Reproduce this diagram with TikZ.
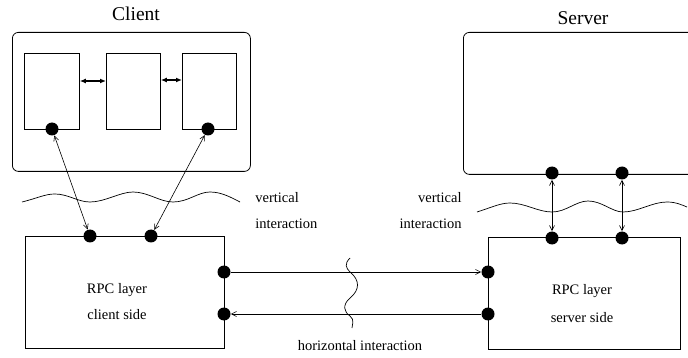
\documentclass[tikz,border=0pt]{standalone}
\usepackage{fontspec}
\setmainfont{Liberation Serif}
\usetikzlibrary{arrows.meta}
\begin{document}
\begin{tikzpicture}[x=1pt,y=-1pt,
  line width=0.8pt,
  box/.style={draw,inner sep=0pt,anchor=north west},
  dot/.style={circle,fill=black,inner sep=0pt,minimum size=13pt},
  lbl/.style={font=\fontsize{14.5}{16}\selectfont,inner sep=0pt},
  ttl/.style={font=\fontsize{19.5}{22}\selectfont,inner sep=0pt},
  arr/.style={-{Straight Barb[length=5pt,width=5pt]},line width=0.6pt},
  darr/.style={{Straight Barb[length=5pt,width=5pt]}-{Straight Barb[length=5pt,width=5pt]},line width=0.6pt},
  inarr/.style={{Latex[length=6pt,width=5pt]}-{Latex[length=6pt,width=5pt]},line width=1.2pt},
  wave/.style={line width=0.7pt}]
\useasboundingbox (0,0) rectangle (688,358);
\clip (0,0) rectangle (688,358);
% titles
\node[ttl] (tc) at (136,14) {Client};
\node[ttl] (ts) at (583,18) {Server};
% client box
\node[box,rounded corners=6pt,minimum width=238pt,minimum height=139pt] (client) at (12,32) {};
\node[box,minimum width=55pt,minimum height=76pt] (b1) at (24,53) {};
\node[box,minimum width=54pt,minimum height=76pt] (b2) at (106,53) {};
\node[box,minimum width=54pt,minimum height=76pt] (b3) at (182,53) {};
\draw[inarr] ([yshift=-28pt]b1.north east) -- ([yshift=-28pt]b2.north west);
\draw[inarr] ([yshift=-27pt]b2.north east) -- ([yshift=-27pt]b3.north west);
% server box
\node[box,rounded corners=6pt,minimum width=240pt,minimum height=142pt] (server) at (463,32) {};
% RPC boxes
\node[box,minimum width=199pt,minimum height=112pt] (rc) at (25,236) {};
\node[box,minimum width=192pt,minimum height=112pt] (rs) at (488,237) {};
\node[lbl] (rct1) at (117,290) {RPC layer};
\node[lbl] (rct2) at (117,315) {client side};
\node[lbl] (rst1) at (582,291) {RPC layer};
\node[lbl] (rst2) at (582,318) {server side};
% labels
\node[lbl,anchor=west] (vl1) at (255,198) {vertical};
\node[lbl,anchor=west] (vl2) at (255,224) {interaction};
\node[lbl,anchor=east] (vr1) at (462,198) {vertical};
\node[lbl,anchor=east] (vr2) at (462,224) {interaction};
\node[lbl] (hl) at (360,346) {horizontal interaction};
% wavy lines
\draw[wave] (22,202) .. controls (38,198) and (45,194) .. (55,194)
  .. controls (68,194) and (78,202) .. (90,202)
  .. controls (105,202) and (120,192) .. (133,192)
  .. controls (148,192) and (160,202) .. (173,202)
  .. controls (188,202) and (198,192) .. (210,192)
  .. controls (222,192) and (232,198) .. (240,202);
\draw[wave] (477,212) .. controls (490,208) and (500,203) .. (510,203)
  .. controls (525,203) and (538,212) .. (552,212)
  .. controls (566,212) and (576,201) .. (588,201)
  .. controls (602,201) and (612,212) .. (623,212)
  .. controls (638,212) and (652,202) .. (667,202)
  .. controls (676,202) and (682,205) .. (687,207);
\draw[wave] (350,258) .. controls (344,264) and (346,268) .. (350,272)
  .. controls (360,280) and (360,290) .. (350,298)
  .. controls (342,305) and (344,312) .. (350,316)
  .. controls (355,320) and (352,325) .. (352,328);
% dots
\node[dot] (cd1) at (52,129) {};
\node[dot] (cd2) at (208,129) {};
\node[dot] (rcd1) at (90,236) {};
\node[dot] (rcd2) at (151,236) {};
\node[dot] (rcd3) at (224,272) {};
\node[dot] (rcd4) at (224,314) {};
\node[dot] (sd1) at (552,173) {};
\node[dot] (sd2) at (622,173) {};
\node[dot] (rsd1) at (552,238) {};
\node[dot] (rsd2) at (622,238) {};
\node[dot] (rsd3) at (488,272) {};
\node[dot] (rsd4) at (488,314) {};
% connectors
\draw[darr] (cd1) -- (rcd1);
\draw[darr] (cd2) -- (rcd2);
\draw[darr] (sd1) -- (rsd1);
\draw[darr] (sd2) -- (rsd2);
\draw[arr] (rcd3) -- (rsd3);
\draw[arr] (rsd4) -- (rcd4);
\end{tikzpicture}
\end{document}
